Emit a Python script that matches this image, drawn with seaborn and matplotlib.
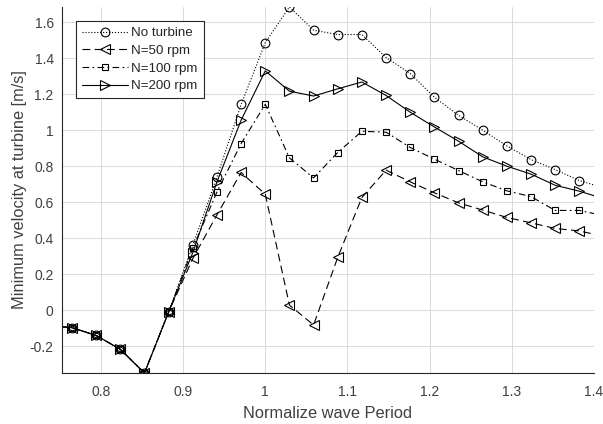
import numpy as np
import pandas as pd
import matplotlib
matplotlib.use("Agg")
import matplotlib.pyplot as plt
import seaborn as sns

# Normalized wave period (step 1/34)
period = [0.7353, 0.7647, 0.7941, 0.8235, 0.8529, 0.8824, 0.9118, 0.9412,
          0.9706, 1.0000, 1.0294, 1.0588, 1.0882, 1.1176, 1.1471, 1.1765,
          1.2059, 1.2353, 1.2647, 1.2941, 1.3235, 1.3529, 1.3824, 1.4118]

no_turbine = [-0.085, -0.098, -0.141, -0.218, -0.350, -0.010, 0.361, 0.740,
              1.143, 1.487, 1.685, 1.556, 1.532, 1.532, 1.404, 1.315,
              1.183, 1.083, 1.000, 0.913, 0.837, 0.781, 0.720, 0.680]
n50 = [-0.085, -0.098, -0.141, -0.218, -0.350, -0.010, 0.287, 0.530,
       0.765, 0.644, 0.028, -0.083, 0.293, 0.626, 0.778, 0.713,
       0.652, 0.596, 0.556, 0.515, 0.485, 0.454, 0.440, 0.410]
n100 = [-0.085, -0.098, -0.141, -0.218, -0.350, -0.010, 0.345, 0.657,
        0.926, 1.144, 0.846, 0.735, 0.876, 0.994, 0.989, 0.904,
        0.839, 0.776, 0.713, 0.663, 0.631, 0.554, 0.554, 0.525]
n200 = [-0.085, -0.098, -0.141, -0.218, -0.350, -0.010, 0.320, 0.713,
        1.056, 1.330, 1.217, 1.190, 1.230, 1.268, 1.193, 1.100,
        1.018, 0.939, 0.852, 0.800, 0.756, 0.694, 0.661, 0.620]

labels = ["No turbine", "N=50 rpm", "N=100 rpm", "N=200 rpm"]
series = [no_turbine, n50, n100, n200]
markers = ["o", "<", "s", ">"]
lstyles = [":", (0, (7, 4)), (0, (6, 3, 1.5, 3)), "-"]
msizes = [6.3, 6.5, 4.3, 6.5]

xticks = [0.8, 0.9, 1.0, 1.1, 1.2, 1.3, 1.4]
xticklabels = ["0.8", "0.9", "1", "1.1", "1.2", "1.3", "1.4"]
yticks = [-0.2, 0, 0.2, 0.4, 0.6, 0.8, 1.0, 1.2, 1.4, 1.6]
yticklabels = ["-0.2", "0", "0.2", "0.4", "0.6", "0.8", "1", "1.2", "1.4", "1.6"]

sns.set_style("white")
plt.rcParams['font.family'] = ['Liberation Sans', 'DejaVu Sans']

fig = plt.figure(figsize=(6.03, 4.24), dpi=100)
ax = fig.add_axes([0.1028, 0.121, 0.882, 0.8625])

axcol = "#262626"
for lab, y, m, ls, ms in zip(labels, series, markers, lstyles, msizes):
    df = pd.DataFrame({"x": period, "y": y})
    sns.lineplot(data=df, x="x", y="y", ax=ax, color="black", linewidth=0.8,
                 linestyle=ls, marker=m, markersize=ms, markerfacecolor="none",
                 markeredgecolor="black", markeredgewidth=0.8, label=lab,
                 sort=False)
for line, ls in zip(ax.get_lines(), lstyles):
    line.set_linestyle(ls)

ax.set_xlim(0.7525, 1.4)
ax.set_ylim(-0.348, 1.685)
ax.set_xticks(xticks)
ax.set_xticklabels(xticklabels)
ax.set_yticks(yticks)
ax.set_yticklabels(yticklabels)
ax.grid(True, color="#dadada", linewidth=0.7)
ax.set_axisbelow(True)
for s in ["top", "right"]:
    ax.spines[s].set_visible(False)
for s in ["left", "bottom"]:
    ax.spines[s].set_color(axcol)
    ax.spines[s].set_linewidth(0.8)
ax.tick_params(direction="in", length=3.5, width=0.8, colors=axcol,
               labelsize=10, labelcolor="#404040")
ax.tick_params(axis="x", pad=9)
ax.tick_params(axis="y", pad=6)
ax.set_xlabel("Normalize wave Period", fontsize=11.8, color="#404040", labelpad=5)
ax.set_ylabel("Minimum velocity at turbine [m/s]", fontsize=11.8, color="#404040", labelpad=2)

leg = ax.legend(loc="upper left", bbox_to_anchor=(0.026, 0.962), fontsize=9.6,
                frameon=True, fancybox=False, framealpha=1, edgecolor="#262626",
                handlelength=3.5, handletextpad=0.2, labelspacing=0.4,
                borderpad=0.45, borderaxespad=0.0)
leg.get_frame().set_linewidth(0.8)

fig.savefig("out.png", dpi=100)
